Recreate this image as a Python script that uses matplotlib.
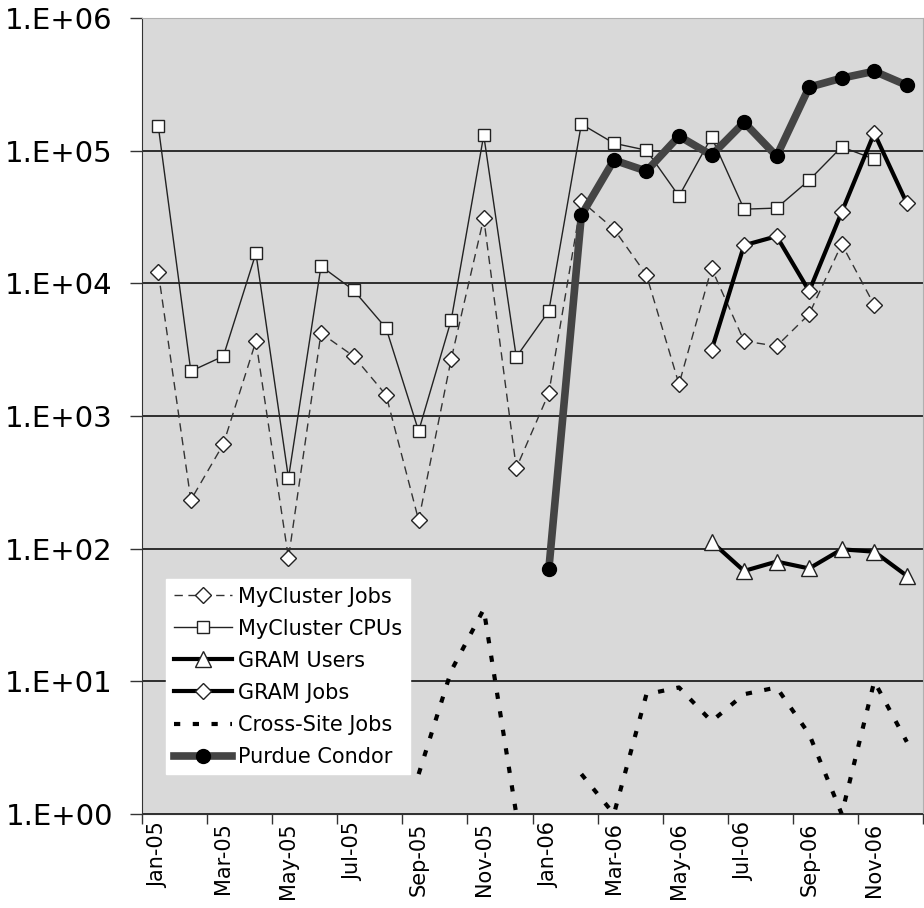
import numpy as np
import matplotlib.pyplot as plt
from matplotlib.ticker import FixedLocator, FuncFormatter, NullFormatter

nan = np.nan

months = ["Jan-05", "Feb-05", "Mar-05", "Apr-05", "May-05", "Jun-05",
          "Jul-05", "Aug-05", "Sep-05", "Oct-05", "Nov-05", "Dec-05",
          "Jan-06", "Feb-06", "Mar-06", "Apr-06", "May-06", "Jun-06",
          "Jul-06", "Aug-06", "Sep-06", "Oct-06", "Nov-06", "Dec-06"]

mycluster_jobs = [12200, 233, 615, 3670, 85, 4220, 2830, 1440, 164, 2690, 31100, 405,
                  1490, 41800, 25700, 11600, 1740, 13000, 3680, 3370, 5870, 19800, 6870, nan]
mycluster_cpus = [153000, 2180, 2830, 16900, 341, 13500, 8900, 4600, 771, 5290, 131000, 2790,
                  6190, 159000, 114000, 101000, 45500, 127000, 36300, 37000, 60100, 107000, 86500, nan]
gram_users = [nan] * 17 + [113, 68, 80, 71, 99, 95, 62.5]
gram_jobs = [nan] * 17 + [3140, 19400, 22700, 8750, 34500, 136000, 40300]
cross_site = [nan] * 8 + [2, 12, 35, 1, nan, 2, 1, 8, 9, 5, 8, 9, 4, 1, 10, 3.5]
purdue_condor = [nan] * 12 + [70, 32700, 85100, 70300, 129000, 92700, 164000, 91100,
                              302000, 353000, 398000, 312000]

x = np.arange(len(months))

fig = plt.figure(figsize=(9.24, 9.08), dpi=100)
ax = fig.add_axes([0.1537, 0.1035, 0.8453, 0.8765])
ax.set_facecolor("#d9d9d9")

ax.plot(x, mycluster_jobs, color="#333333", lw=1.0, dashes=(6, 4),
        marker="D", ms=8, mfc="white", mec="#222222", mew=1.0, label="MyCluster Jobs")
ax.plot(x, mycluster_cpus, color="#222222", lw=1.0,
        marker="s", ms=9, mfc="white", mec="#222222", mew=1.0, label="MyCluster CPUs")
ax.plot(x, gram_users, color="black", lw=3.0,
        marker="^", ms=12, mfc="white", mec="#222222", mew=1.0, label="GRAM Users")
ax.plot(x, gram_jobs, color="black", lw=3.0,
        marker="D", ms=8, mfc="white", mec="#222222", mew=1.0, label="GRAM Jobs")
ax.plot(x, cross_site, color="black", lw=3.0, dashes=(1.5, 3.0), dash_capstyle="butt",
        label="Cross-Site Jobs")
ax.plot(x, purdue_condor, color="#444444", lw=5.5,
        marker="o", ms=10, mfc="black", mec="black", label="Purdue Condor")

ax.set_yscale("log")
ax.set_ylim(1, 1e6)
ax.set_xlim(-0.5, len(months) - 0.5)

ax.yaxis.set_major_locator(FixedLocator([10.0 ** k for k in range(7)]))
ax.yaxis.set_minor_locator(FixedLocator([]))
ax.yaxis.set_major_formatter(FuncFormatter(lambda v, p: "1.E+%02d" % round(np.log10(v))))
ax.tick_params(axis="y", which="major", labelsize=21, length=9, width=1, color="#333333", pad=12)

ax.xaxis.set_major_locator(FixedLocator(np.arange(-0.5, len(months), 2)))
ax.xaxis.set_major_formatter(NullFormatter())
ax.xaxis.set_minor_locator(FixedLocator(x[::2]))
ax.set_xticklabels(months[::2], minor=True, rotation=90)
ax.tick_params(axis="x", which="major", length=7, width=1, color="#333333")
ax.tick_params(axis="x", which="minor", length=0, labelsize=15, pad=6)

ax.grid(axis="y", which="major", color="black", lw=1.1)
ax.set_axisbelow(True)
ax.spines["left"].set_color("#333333")
ax.spines["bottom"].set_color("#333333")
ax.spines["top"].set_color("#b0b0b0")
ax.spines["right"].set_color("#b0b0b0")

leg = ax.legend(loc="lower left", bbox_to_anchor=(0.031, 0.05), borderaxespad=0,
                fontsize=15, frameon=True, fancybox=False, framealpha=1,
                edgecolor="white", facecolor="white", handlelength=2.8,
                handletextpad=0.3, labelspacing=0.58, borderpad=0.35)

fig.savefig("out.png", dpi=100)
